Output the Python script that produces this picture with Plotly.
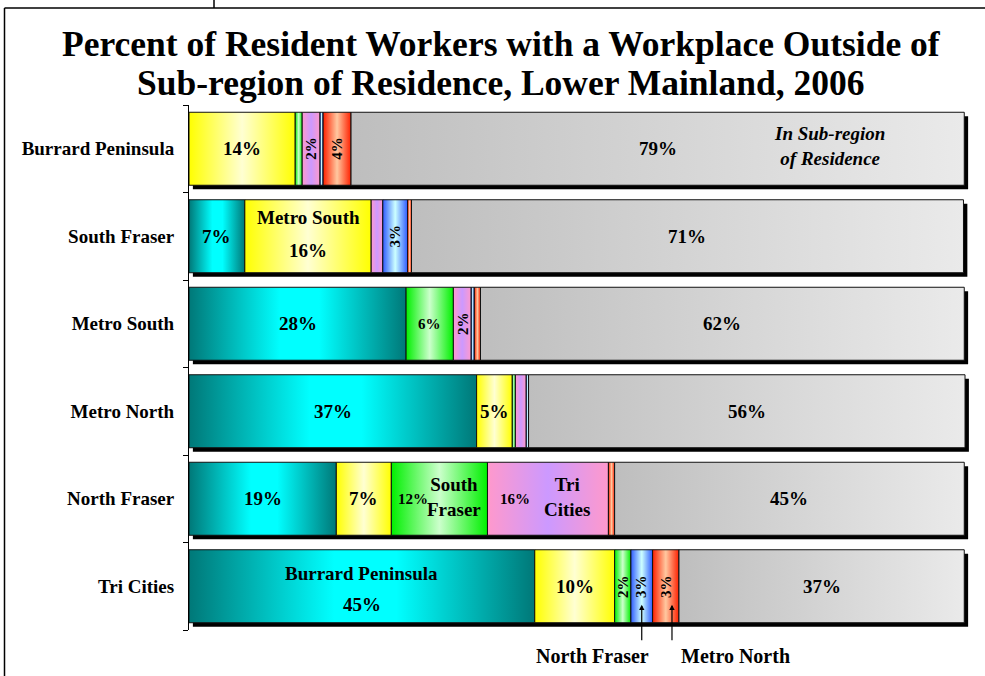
import plotly.graph_objects as go

# ---------------- data ----------------
regions = ["Burrard Peninsula", "South Fraser", "Metro South",
           "Metro North", "North Fraser", "Tri Cities"]
series_names = ["Burrard Peninsula", "Metro South", "South Fraser", "Tri Cities",
                "North Fraser", "Metro North", "In Sub-region of Residence"]
burrard_peninsula = [0.0, 7.2, 28.0, 37.1, 19.0, 44.6]
metro_south       = [13.7, 16.3, 0.0, 4.6, 7.1, 10.3]
south_fraser      = [0.9, 0.0, 6.1, 0.4, 12.4, 2.1]
tri_cities        = [2.3, 1.5, 2.3, 1.4, 15.6, 0.0]
north_fraser      = [0.4, 3.2, 0.4, 0.3, 0.0, 2.8]
metro_north       = [3.6, 0.5, 0.8, 0.0, 0.8, 3.4]
in_subregion      = [79.1, 71.2, 62.4, 56.3, 45.1, 36.8]
series_values = [burrard_peninsula, metro_south, south_fraser, tri_cities,
                 north_fraser, metro_north, in_subregion]

title_line1 = "Percent of Resident Workers with a Workplace Outside of"
title_line2 = "Sub-region of Residence, Lower Mainland, 2006"
inside_note = "<i>In Sub-region<br>of Residence</i>"

# ---------------- style ----------------
scales = [
    [[0, "#007878"], [0.42, "#00FFFF"], [0.6, "#00FFFF"], [1, "#007878"]],
    [[0, "#FFFF00"], [0.5, "#FFFFD2"], [1, "#FFFF00"]],
    [[0, "#00F000"], [0.5, "#CCFFCC"], [1, "#00F000"]],
    [[0, "#FF99CC"], [0.5, "#CC99FF"], [1, "#FF99CC"]],
    [[0, "#2F5BFF"], [0.5, "#CCFFFF"], [1, "#2F5BFF"]],
    [[0, "#FF2000"], [0.5, "#FFC8A0"], [1, "#FF2000"]],
    [[0, "#BEBEBE"], [1, "#EAEAEA"]],
]
FONT = "Liberation Serif, Times New Roman, serif"
W, H = 985, 676
PL, PR, PT, PB = 189, 972, 105, 630
XMAX = 101
HALF = 0.417          # half bar thickness (category units)
SDX, SDY = 0.5, 0.045  # shadow offset


def px_x(p):
    return (p - PL) / (PR - PL)


def px_y(p):
    return (PB - p) / (PB - PT)


fig = go.Figure()

# cumulative bases
bases = []
for i in range(len(regions)):
    row, acc = [], 0.0
    for vals in series_values:
        row.append(acc)
        acc += vals[i]
    bases.append(row)
totals = [sum(v[i] for v in series_values) for i in range(len(regions))]

# shadows
for i in range(len(regions)):
    fig.add_trace(go.Scatter(
        x=[SDX, totals[i] + SDX, totals[i] + SDX, SDX, SDX],
        y=[i - HALF + SDY, i - HALF + SDY, i + HALF + SDY, i + HALF + SDY, i - HALF + SDY],
        mode="lines", fill="toself", fillcolor="black", line=dict(width=0, color="black"),
        hoverinfo="skip", showlegend=False))

# segments
for s, vals in enumerate(series_values):
    for i, v in enumerate(vals):
        if v <= 0:
            continue
        b = bases[i][s]
        fig.add_trace(go.Scatter(
            x=[b, b + v, b + v, b, b],
            y=[i - HALF, i - HALF, i + HALF, i + HALF, i - HALF],
            mode="lines", fill="toself",
            fillgradient=dict(type="horizontal", colorscale=scales[s]),
            line=dict(color="#111111", width=1),
            name=series_names[s], hoverinfo="name+x", showlegend=False))

# ---------------- labels ----------------
# (row, series, kind, extra)
label_specs = [
    (0, 1, "big", None), (0, 3, "rot", None), (0, 5, "rot", None), (0, 6, "big", None),
    (1, 0, "big", None), (1, 1, "named", (-0.22, 0.16)), (1, 4, "rot", None), (1, 6, "big", None),
    (2, 0, "big", None), (2, 2, "mid", None), (2, 3, "rot", None), (2, 6, "big", None),
    (3, 0, "big", None), (3, 1, "big", None), (3, 6, "big", None),
    (4, 0, "big", None), (4, 1, "big", None), (4, 2, "side", "South<br>Fraser"),
    (4, 3, "side", "Tri<br>Cities"), (4, 6, "big", None),
    (5, 0, "named", (-0.15, 0.21)), (5, 1, "big", None), (5, 2, "rot", None),
    (5, 4, "rot", None), (5, 5, "rot", None), (5, 6, "big", None),
]


def pct(v):
    return f"{int(v + 0.5)}%"


def add_text(x, y, text, size, angle=0):
    fig.add_annotation(x=x, y=y, xref="x", yref="y", text=text, showarrow=False,
                       textangle=angle, font=dict(size=size, color="black"),
                       xanchor="center", yanchor="middle")


for (i, s, kind, extra) in label_specs:
    v = series_values[s][i]
    b = bases[i][s]
    cx = b + v / 2
    if kind == "big":
        add_text(cx, i, pct(v), 19)
    elif kind == "mid":
        add_text(cx, i, pct(v), 15)
    elif kind == "rot":
        add_text(cx, i, pct(v), 15, angle=-90)
    elif kind == "named":
        add_text(cx, i + extra[0], series_names[s], 19)
        add_text(cx, i + extra[1], pct(v), 19)
    elif kind == "side":
        add_text(b + v * 0.23, i, pct(v), 15)
        add_text(b + v * 0.655, i - 0.02, extra, 19)

# italic note inside first gray bar
g_b, g_v = bases[0][6], series_values[6][0]
add_text(g_b + g_v * 0.78, -0.03, inside_note, 19)

# bottom callouts for the Tri Cities row
tc = len(regions) - 1
for s, dxo, lab_dx in [(4, 0.0, -6.4), (5, 0.8, 8.2)]:
    cx = bases[tc][s] + series_values[s][tc] / 2 + dxo
    fig.add_annotation(x=cx, y=tc + 0.21, xref="x", yref="y", text="",
                       showarrow=True, arrowhead=2, arrowsize=0.9, arrowwidth=1.2,
                       arrowcolor="black", ax=0, ay=37)
    fig.add_annotation(x=(cx + lab_dx) / XMAX, y=px_y(656), xref="paper", yref="paper",
                       text=series_names[s], showarrow=False,
                       font=dict(size=20, color="black"),
                       xanchor="center", yanchor="middle")

# title
fig.add_annotation(x=px_x(501), y=px_y(44), xref="paper", yref="paper",
                   text=title_line1, showarrow=False, font=dict(size=35.5, color="black"),
                   xanchor="center", yanchor="middle")
fig.add_annotation(x=px_x(500), y=px_y(83), xref="paper", yref="paper",
                   text=title_line2, showarrow=False, font=dict(size=35.5, color="black"),
                   xanchor="center", yanchor="middle")

# frame lines
frame = dict(color="black", width=1.5)
fig.add_shape(type="line", xref="paper", yref="paper",
              x0=px_x(4.5), x1=px_x(4.5), y0=px_y(8), y1=px_y(690), line=frame)
fig.add_shape(type="line", xref="paper", yref="paper",
              x0=px_x(4.5), x1=px_x(1000), y0=px_y(8), y1=px_y(8), line=frame)
fig.add_shape(type="line", xref="paper", yref="paper",
              x0=px_x(214), x1=px_x(214), y0=px_y(-5), y1=px_y(8), line=frame)

n = len(regions)
fig.update_layout(
    width=W, height=H,
    margin=dict(l=PL, r=W - PR, t=PT, b=H - PB, pad=0),
    paper_bgcolor="white", plot_bgcolor="white",
    font=dict(family=FONT, size=19, color="black", weight="bold"),
    showlegend=False,
    xaxis=dict(range=[0, XMAX], visible=False, fixedrange=True),
    yaxis=dict(range=[n - 0.5, -0.5], tickmode="array",
               tickvals=list(range(n)), ticktext=regions, ticks="",
               showgrid=False, zeroline=False, showline=True,
               linecolor="black", linewidth=1,
               ticklabelstandoff=10,
               tickfont=dict(size=19, family=FONT, color="black", weight="bold"),
               minor=dict(tickmode="array", tickvals=[k - 0.5 for k in range(n + 1)],
                          ticks="outside", ticklen=5, tickcolor="black", tickwidth=1,
                          showgrid=False),
               fixedrange=True),
)

fig.write_html(
    "out.html",
    config={"displayModeBar": False},
    post_script="document.body.style.margin='0';document.body.style.overflow='hidden';",
)
